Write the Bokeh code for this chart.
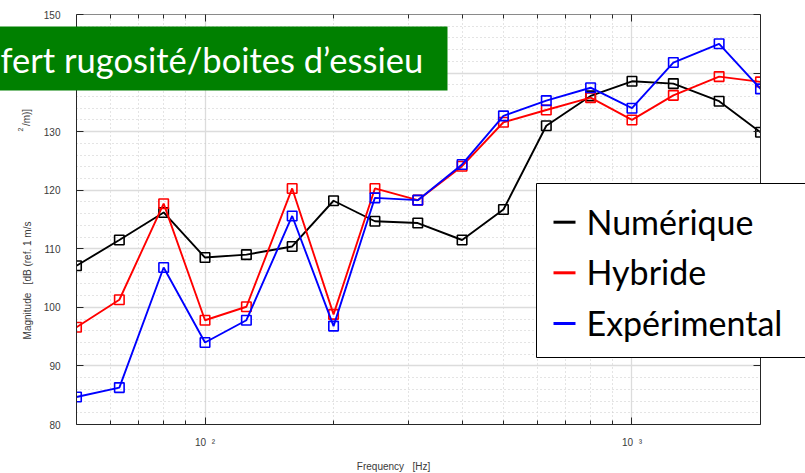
import math
from bokeh.plotting import figure
from bokeh.models import FixedTicker, LogAxis, LinearAxis
from bokeh.core.properties import value
from bokeh.embed import file_html
from bokeh.resources import INLINE

# ---------------- data ----------------
freqs = [50, 63, 80, 100, 125, 160, 200, 250, 315, 400, 500, 630, 800, 1000, 1250, 1600, 2000]
numerique = [107.1, 111.5, 116.2, 108.5, 109.0, 110.4, 118.2, 114.7, 114.4, 111.5,
             116.7, 131.0, 136.1, 138.6, 138.2, 135.2, 129.9]
hybride = [96.6, 101.3, 117.7, 97.8, 100.1, 120.3, 98.8, 120.3, 118.3, 124.1,
           131.6, 133.7, 135.8, 132.0, 136.2, 139.4, 138.5]
experimental = [84.7, 86.3, 106.8, 94.0, 97.8, 115.6, 96.8, 118.7, 118.3, 124.4,
                132.7, 135.3, 137.5, 134.0, 141.8, 145.0, 137.3]

series_names = ["Numérique", "Hybride", "Expérimental"]
series_colors = ["#000000", "#ff0000", "#0000ff"]

NB = "\u00a0"
x_major_ticks = [100, 1000]
x_minor_ticks = [60, 70, 80, 90, 200, 300, 400, 500, 600, 700, 800, 900]
x_tick_labels = {100: "10" + NB * 2 + "\u00b2", 1000: "10" + NB * 2 + "\u00b3"}
y_major_ticks = [80, 90, 100, 110, 120, 130, 140, 150]
y_minor_ticks = [82, 84, 86, 88, 92, 94, 96, 98, 102, 104, 106, 108, 112, 114, 116, 118,
                 122, 124, 126, 128, 132, 134, 136, 138, 142, 144, 146, 148]

title_text = "fert rugosité/boites d\u2019essieu"
x_label = "Frequency" + NB * 3 + "[Hz]"
y_label_main = "Magnitude" + NB * 3 + "[dB (ref. 1 m/s"
y_label_sup = "2"
y_label_tail = "/m)]"

X_MIN, X_MAX = 50, 2000
Y_MIN, Y_MAX = 80, 150

# ---------------- layout ----------------
W, H = 805, 473
BL, BR, BT, BB = 76, 45, 14, 49
FW = W - BL - BR
FH = H - BT - BB
BASE_FIX = 12  # renderer puts the alphabetic baseline this many px lower


def dx(px):
    """canvas pixel x -> data x"""
    return X_MIN * (X_MAX / X_MIN) ** ((px - BL) / FW)


def dy(py):
    """canvas pixel y -> data y"""
    return Y_MAX - (Y_MAX - Y_MIN) * (py - BT) / FH


p = figure(width=W, height=H, x_axis_type="log", x_range=(X_MIN, X_MAX), y_range=(Y_MIN, Y_MAX),
           output_backend="svg", toolbar_location=None,
           min_border_left=BL, min_border_right=BR, min_border_top=BT, min_border_bottom=BB)
p.background_fill_color = "white"
p.border_fill_color = "white"
p.outline_line_color = None

xt = FixedTicker(ticks=x_major_ticks, minor_ticks=x_minor_ticks)
yt = FixedTicker(ticks=y_major_ticks, minor_ticks=y_minor_ticks)

xa = p.below[0]
ya = p.left[0]
xa.ticker = xt
ya.ticker = yt
p.xgrid[0].ticker = xt
p.ygrid[0].ticker = yt

TICK_COL = "#262626"
LABEL_COL = "#3a3a3a"


def style_axis(ax, line_color, minor=True):
    ax.axis_line_color = line_color
    ax.axis_line_width = 1
    ax.major_tick_in = 7
    ax.major_tick_out = 0
    ax.minor_tick_in = 4
    ax.minor_tick_out = 0
    ax.major_tick_line_color = TICK_COL
    ax.major_tick_line_width = 1
    ax.minor_tick_line_color = TICK_COL if minor else None
    ax.minor_tick_line_width = 1


style_axis(xa, TICK_COL)
style_axis(ya, TICK_COL, minor=False)
xa.major_label_overrides = x_tick_labels
xa.major_label_text_font = "Liberation Sans"
xa.major_label_text_font_size = "10px"
xa.major_label_text_color = LABEL_COL
xa.major_label_standoff = 12
ya.major_label_text_font = "Liberation Sans"
ya.major_label_text_font_size = "10px"
ya.major_label_text_color = LABEL_COL
ya.major_label_text_baseline = "bottom"
ya.major_label_standoff = 16

top_ax = LogAxis(ticker=xt)
style_axis(top_ax, "#8a8a8a")
top_ax.major_label_text_font_size = "1px"
top_ax.major_label_text_alpha = 0
top_ax.major_label_standoff = 0
p.add_layout(top_ax, "above")

right_ax = LinearAxis(ticker=yt)
style_axis(right_ax, TICK_COL, minor=False)
right_ax.major_label_text_font_size = "1px"
right_ax.major_label_text_alpha = 0
right_ax.major_label_standoff = 0
p.add_layout(right_ax, "right")

for g in (p.xgrid[0], p.ygrid[0]):
    g.grid_line_color = "#dcdcdc"
    g.grid_line_width = 1.3
    g.minor_grid_line_color = "#c8c8c8"
    g.minor_grid_line_dash = "1 3"
    g.minor_grid_line_width = 1

# ---------------- series ----------------
for vals, color in zip([numerique, hybride, experimental], series_colors):
    p.line(freqs, vals, line_color=color, line_width=1.9)
    p.scatter(freqs, vals, marker="square", size=9.5, fill_color=None,
              line_color=color, line_width=1.6)

# ---------------- axis labels (overlay level: not clipped to frame) ----------------
LBL = dict(text_font=value("Liberation Sans"), text_color=LABEL_COL,
           text_align="center", text_baseline="middle", level="overlay")
p.text(x=[dx(393)], y=[dy(466)], text=[x_label], text_font_size="10px", **LBL)
p.text(x=[dx(27)], y=[dy(280)], text=[y_label_main], text_font_size="10px",
       angle=math.pi / 2, **LBL)
p.text(x=[dx(19.5)], y=[dy(129)], text=[y_label_sup], text_font_size="7px",
       angle=math.pi / 2, **LBL)
p.text(x=[dx(26)], y=[dy(117)], text=[y_label_tail], text_font_size="10px",
       angle=math.pi / 2, **LBL)

# ---------------- green title banner ----------------
p.quad(left=[dx(-5)], right=[dx(447)], top=[dy(26)], bottom=[dy(90)],
       fill_color="#008000", line_color=None, level="overlay")
p.text(x=[dx(0)], y=[dy(71 - BASE_FIX)], text=[title_text], text_font=value("Lato"),
       text_font_size="34.5px", text_color="white", text_align="left",
       text_baseline="alphabetic", level="overlay")

# ---------------- legend box ----------------
p.quad(left=[dx(536)], right=[dx(830)], top=[dy(183)], bottom=[dy(357)],
       fill_color="white", line_color="black", line_width=1, level="overlay")
legend_baselines = [232.7, 283.3, 334.0]
for name, color, base in zip(series_names, series_colors, legend_baselines):
    p.segment(x0=[dx(553)], x1=[dx(575)], y0=[dy(base - 11)], y1=[dy(base - 11)],
              line_color=color, line_width=3, level="overlay")
    p.text(x=[dx(586)], y=[dy(base - BASE_FIX)], text=[name], text_font=value("Lato"),
           text_font_size="34px", text_color="black", text_align="left",
           text_baseline="alphabetic", level="overlay")

open("out.html", "w").write(file_html(p, INLINE))
